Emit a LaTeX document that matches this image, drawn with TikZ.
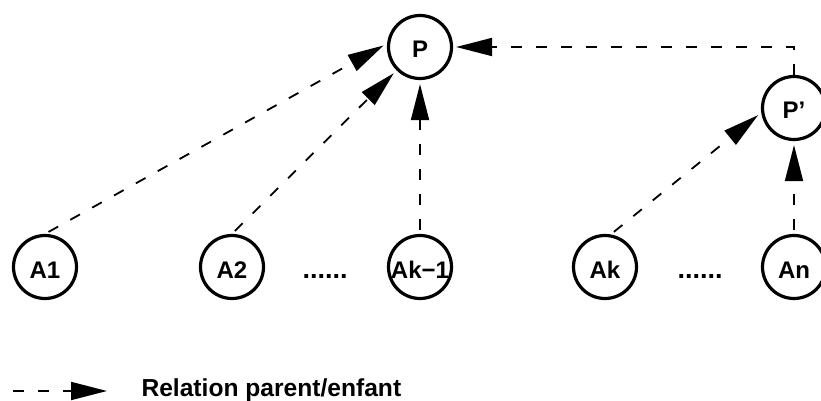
\documentclass[tikz,border=0pt]{standalone}
\usepackage{fontspec}
\setmainfont{Liberation Sans}
\usetikzlibrary{positioning}
\usetikzlibrary{arrows.meta}

\tikzset{
    elem/.style={circle, draw=black, line width=3.2pt, minimum size=63pt,
    inner sep=0pt, text height=22pt, text depth=0pt,
    font=\fontsize{24}{28}\selectfont\bfseries},
    rel/.style={line width=1.8pt, dash pattern=on 11pt off 14pt,
    -{Triangle[length=36pt, width=18pt]}, shorten >=4pt, shorten <=4pt},
    dots/.style={font=\fontsize{27}{30}\selectfont\bfseries, anchor=base}
}

\begin{document}
\begin{tikzpicture}[x=1pt, y=-1pt]
        \useasboundingbox (0,0) rectangle (821,401);

        \node[elem] (p) at (420,47) {P};
        \node[elem] (pp) at (794,108) {P’};

        \node[elem] (a1) at (45,267) {A1};
        \node[elem] (a2) at (232,267) {A2};
        \node[elem] (ak1) at (420,267) {Ak−1};
        \node[elem] (ak) at (605,267) {Ak};
        \node[elem] (an) at (794,267) {An};

        \node[dots] (dots1) at (325,278) {......};
        \node[dots] (dots2) at (700,278) {......};

        \draw[rel] (a1.north) -- (p.174);
        \draw[rel] (a2.north) -- (p.225);
        \draw[rel] (ak1.north) -- (p.south);
        \draw[rel] (ak.80) -- (pp.188);
        \draw[rel] (an.north) -- (pp.south);
        \draw[rel, shorten <=0pt, shorten >=3pt] (pp.north) |- (p.east);

        % legende
        \coordinate (lg0) at (13,391);
        \coordinate (lg1) at (107,391);
        \draw[rel, shorten <=0pt, shorten >=0pt] (lg0) -- (lg1);
        \node[anchor=base west, font=\fontsize{24.6}{28}\selectfont\bfseries]
        (legend) at (138,396) {Relation parent/enfant};
\end{tikzpicture}
\end{document}
